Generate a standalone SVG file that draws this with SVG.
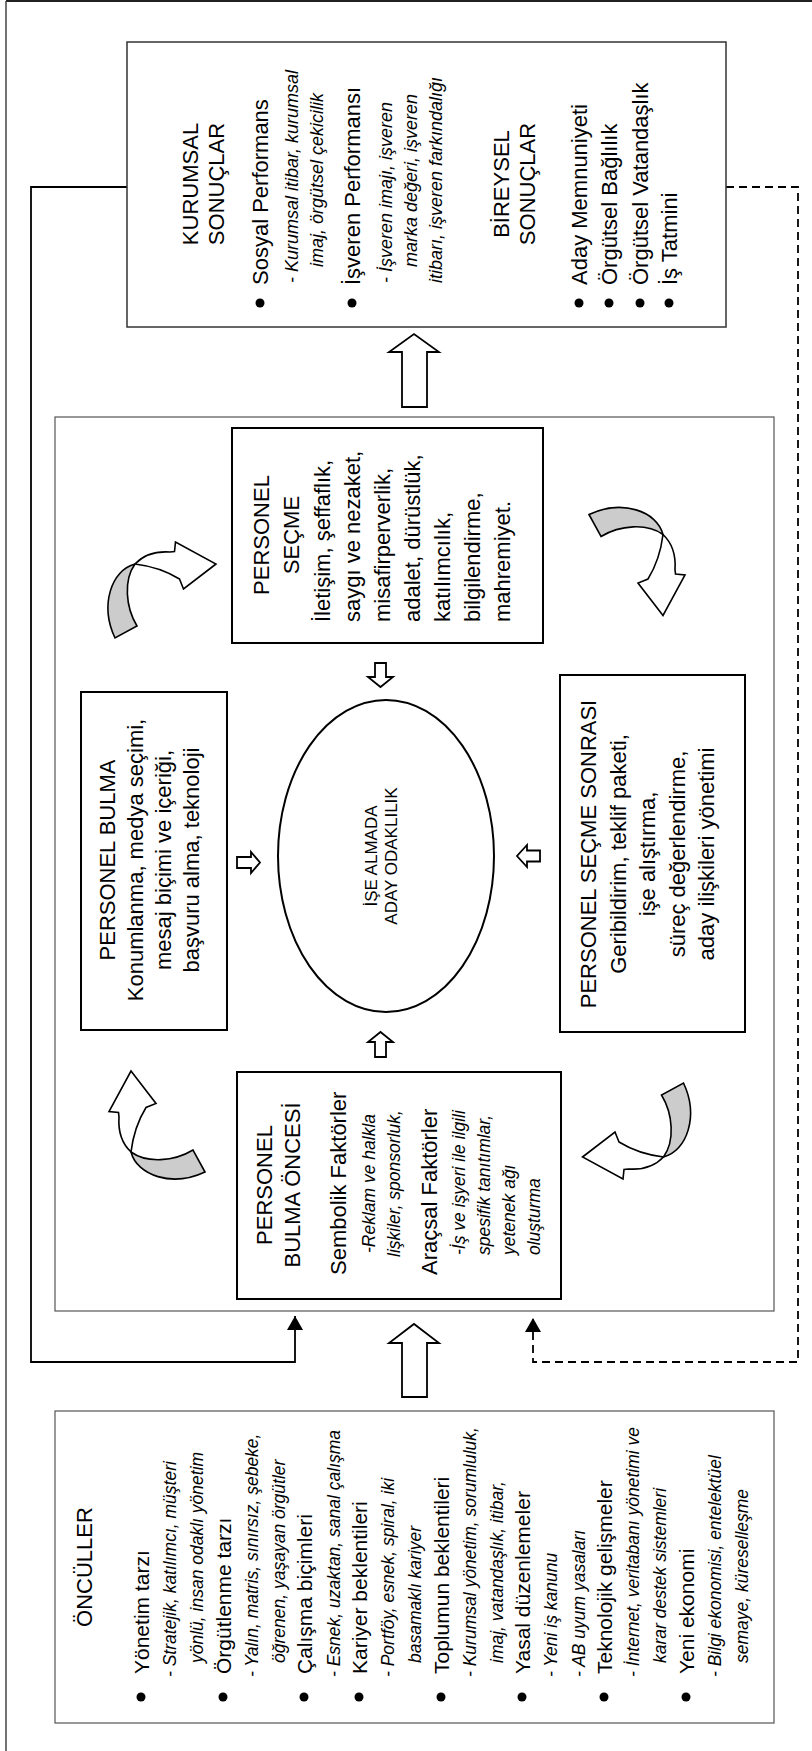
<svg xmlns="http://www.w3.org/2000/svg" width="812" height="1751" viewBox="0 0 812 1751">
<style>
text { font-family: "Liberation Sans", Arial, sans-serif; fill: #000; }
.t { font-size: 22px; }
.o { font-size: 21px; }
.i { font-size: 17.5px; font-style: italic; }
.ik { font-size: 18px; font-style: italic; }
.e { font-size: 17px; }
.c { text-anchor: middle; }
.box { fill: #fff; stroke: #000; stroke-width: 2; }
.thin { fill: none; stroke: #555; stroke-width: 1.2; }
.kbox { fill: #fff; stroke: #333; stroke-width: 1.5; }
.blk { fill: #fff; stroke: #000; stroke-width: 1.8; }
.con { fill: none; stroke: #000; stroke-width: 1.8; }
.dash { stroke-dasharray: 8 5; }
.cw { fill: #fff; stroke: #000; stroke-width: 1.6; stroke-linejoin: miter; }
.cg { fill: #cccccc; stroke: #000; stroke-width: 1.6; stroke-linejoin: miter; }
.dot { fill: #000; }
</style>
<defs>
<marker id="ah" viewBox="0 0 14 16" refX="14" refY="8" markerWidth="14" markerHeight="16" orient="auto" markerUnits="userSpaceOnUse">
<path d="M0,0 L14,8 L0,16 Z" fill="#000"/>
</marker>
<g id="ca">
<path class="cg" d="M -31,26.5 C -25,50 10,62 43,46.5 L 31,24.5 C 12,36 -15,38 -31,26.5 Z"/>
<path class="cw" d="M -31,26.5 C -40,18 -44,6 -43,-8.5 L -43.5,-13 L -53,-14 L -31,-54.5 L -6,-22 L -16,-18 C -24,-5 -29,10 -31,26.5 Z"/>
</g>
</defs>

<g id="frame">
<line x1="6" y1="1" x2="812" y2="1" stroke="#222" stroke-width="2"/>
<line x1="6" y1="1" x2="6" y2="1751" stroke="#444" stroke-width="1.5"/>
</g>

<g id="connectors">
<path class="con" d="M127,187 H31 V1362 H295 V1316" marker-end="url(#ah)"/>
<path class="con dash" d="M726,187 H798 V1362 H533 V1318" marker-end="url(#ah)"/>
<polygon class="blk" points="402,407 402,352 389,352 414,334 439,352 427,352 427,407"/>
<polygon class="blk" points="402,1397 402,1343 389,1343 414,1324 439,1343 427,1343 427,1397"/>
<polygon class="blk" points="375,663 386,663 386,677 393,677 380.5,687 368,677 375,677"/>
<polygon class="blk" points="375,1057 386,1057 386,1042 393,1042 380.5,1032 368,1042 375,1042"/>
<polygon class="blk" points="237,857 251,857 251,852 260,862.5 251,873 251,868 237,868"/>
<polygon class="blk" points="540,850.5 527,850.5 527,845 517,856 527,867 527,861.5 540,861.5"/>
<use href="#ca" transform="translate(162,1125.5)"/>
<use href="#ca" transform="translate(161.5,595) rotate(90)"/>
<use href="#ca" transform="translate(632,561) rotate(180)"/>
<use href="#ca" transform="translate(637,1126) rotate(270)"/>
</g>

<g id="middle-frame">
<rect class="thin" x="55" y="417" width="719" height="894"/>
</g>

<g id="kurumsal">
<rect class="kbox" x="127" y="42" width="599" height="285"/>
<g transform="translate(0,1751) rotate(-90)">
<text class="t c" x="1567" y="198">KURUMSAL</text>
<text class="t c" x="1567" y="224">SONUÇLAR</text>
<circle class="dot" cx="1448" cy="260" r="4.5"/>
<text class="t" x="1466" y="268">Sosyal Performans</text>
<text class="ik" x="1468" y="298">- Kurumsal itibar, kurumsal</text>
<text class="ik" x="1484" y="323">imaj, örgütsel çekicilik</text>
<circle class="dot" cx="1448" cy="352" r="4.5"/>
<text class="t" x="1466" y="360">İşveren Performansı</text>
<text class="ik" x="1468" y="392">- İşveren imajı, işveren</text>
<text class="ik" x="1484" y="417">marka değeri, işveren</text>
<text class="ik" x="1468" y="442">itibarı, işveren farkındalığı</text>
<text class="t c" x="1567" y="509">BİREYSEL</text>
<text class="t c" x="1567" y="535">SONUÇLAR</text>
<circle class="dot" cx="1448" cy="579" r="4.5"/>
<text class="t" x="1466" y="587">Aday Memnuniyeti</text>
<circle class="dot" cx="1448" cy="609" r="4.5"/>
<text class="t" x="1466" y="617">Örgütsel Bağlılık</text>
<circle class="dot" cx="1448" cy="640" r="4.5"/>
<text class="t" x="1466" y="648">Örgütsel Vatandaşlık</text>
<circle class="dot" cx="1448" cy="669" r="4.5"/>
<text class="t" x="1466" y="677">İş Tatmini</text>
</g>
</g>

<g id="secme">
<rect class="box" x="232" y="428" width="311" height="215"/>
<g transform="translate(0,1751) rotate(-90)">
<text class="t c" x="1216" y="269">PERSONEL</text>
<text class="t c" x="1216" y="299">SEÇME</text>
<text class="t" x="1129" y="330">İletişim, şeffaflık,</text>
<text class="t" x="1129" y="360">saygı ve nezaket,</text>
<text class="t" x="1129" y="390">misafirperverlik,</text>
<text class="t" x="1129" y="420">adalet, dürüstlük,</text>
<text class="t" x="1129" y="450">katılımcılık,</text>
<text class="t" x="1129" y="480">bilgilendirme,</text>
<text class="t" x="1129" y="510">mahremiyet.</text>
</g>
</g>

<g id="bulma">
<rect class="box" x="81" y="692" width="146" height="338"/>
<g transform="translate(0,1751) rotate(-90)">
<text class="t c" x="891" y="115">PERSONEL BULMA</text>
<text class="t c" x="891" y="143">Konumlanma, medya seçimi,</text>
<text class="t c" x="891" y="171">mesaj biçimi ve içeriği,</text>
<text class="t c" x="891" y="199">başvuru alma, teknoloji</text>
</g>
</g>

<g id="odak">
<ellipse cx="386" cy="856" rx="108" ry="156" fill="#fff" stroke="#000" stroke-width="2"/>
<g transform="translate(0,1751) rotate(-90)">
<text class="e c" x="895" y="377">İŞE ALMADA</text>
<text class="e c" x="895" y="397">ADAY ODAKLILIK</text>
</g>
</g>

<g id="sonrasi">
<rect class="box" x="560" y="675" width="185" height="357"/>
<g transform="translate(0,1751) rotate(-90)">
<text class="t c" x="897" y="596">PERSONEL SEÇME SONRASI</text>
<text class="t c" x="897" y="626">Geribildirim, teklif paketi,</text>
<text class="t c" x="897" y="655">işe alıştırma,</text>
<text class="t c" x="897" y="685">süreç değerlendirme,</text>
<text class="t c" x="897" y="714">aday ilişkileri yönetimi</text>
</g>
</g>

<g id="oncesi">
<rect class="box" x="237" y="1072" width="324" height="227"/>
<g transform="translate(0,1751) rotate(-90)">
<text class="t c" x="566" y="272">PERSONEL</text>
<text class="t c" x="566" y="300">BULMA ÖNCESİ</text>
<text class="t" x="476" y="346">Sembolik Faktörler</text>
<text class="i" x="498" y="375">-Reklam ve halkla</text>
<text class="i" x="494" y="400">lişkiler, sponsorluk,</text>
<text class="t" x="476" y="437">Araçsal Faktörler</text>
<text class="i" x="496" y="465">-İş ve işyeri ile ilgili</text>
<text class="i" x="496" y="490">spesifik tanıtımlar,</text>
<text class="i" x="496" y="515">yetenek ağı</text>
<text class="i" x="496" y="540">oluşturma</text>
</g>
</g>

<g id="onculler">
<rect class="thin" x="55" y="1411" width="719" height="312"/>
<g transform="translate(0,1751) rotate(-90)">
<text class="t c" x="184" y="92">ÖNCÜLLER</text>
<circle class="dot" cx="54" cy="141" r="4.5"/>
<text class="o" x="77" y="149">Yönetim tarzı</text>
<text class="i" x="74" y="176">- Stratejik, katılımcı, müşteri</text>
<text class="i" x="88" y="203">yönlü, insan odaklı yönetim</text>
<circle class="dot" cx="54" cy="223" r="4.5"/>
<text class="o" x="77" y="231">Örgütlenme tarzı</text>
<text class="i" x="74" y="258">- Yalın, matris, sınırsız, şebeke,</text>
<text class="i" x="88" y="285">öğrenen, yaşayan örgütler</text>
<circle class="dot" cx="54" cy="304" r="4.5"/>
<text class="o" x="77" y="312">Çalışma biçimleri</text>
<text class="i" x="74" y="340">- Esnek, uzaktan, sanal çalışma</text>
<circle class="dot" cx="54" cy="359" r="4.5"/>
<text class="o" x="77" y="367">Kariyer beklentileri</text>
<text class="i" x="74" y="394">- Portföy, esnek, spiral, iki</text>
<text class="i" x="88" y="421">basamaklı kariyer</text>
<circle class="dot" cx="54" cy="441" r="4.5"/>
<text class="o" x="77" y="449">Toplumun beklentileri</text>
<text class="i" x="74" y="476">- Kurumsal yönetim, sorumluluk,</text>
<text class="i" x="88" y="503">imaj, vatandaşlık, itibar,</text>
<circle class="dot" cx="54" cy="522" r="4.5"/>
<text class="o" x="77" y="530">Yasal düzenlemeler</text>
<text class="i" x="74" y="557">- Yeni iş kanunu</text>
<text class="i" x="74" y="585">- AB uyum yasaları</text>
<circle class="dot" cx="54" cy="604" r="4.5"/>
<text class="o" x="77" y="612">Teknolojik gelişmeler</text>
<text class="i" x="74" y="639">- İnternet, veritabanı yönetimi ve</text>
<text class="i" x="88" y="666">karar destek sistemleri</text>
<circle class="dot" cx="54" cy="686" r="4.5"/>
<text class="o" x="77" y="694">Yeni ekonomi</text>
<text class="i" x="74" y="721">- Bilgi ekonomisi, entelektüel</text>
<text class="i" x="88" y="748">semaye,  küreselleşme</text>
</g>
</g>
</svg>
